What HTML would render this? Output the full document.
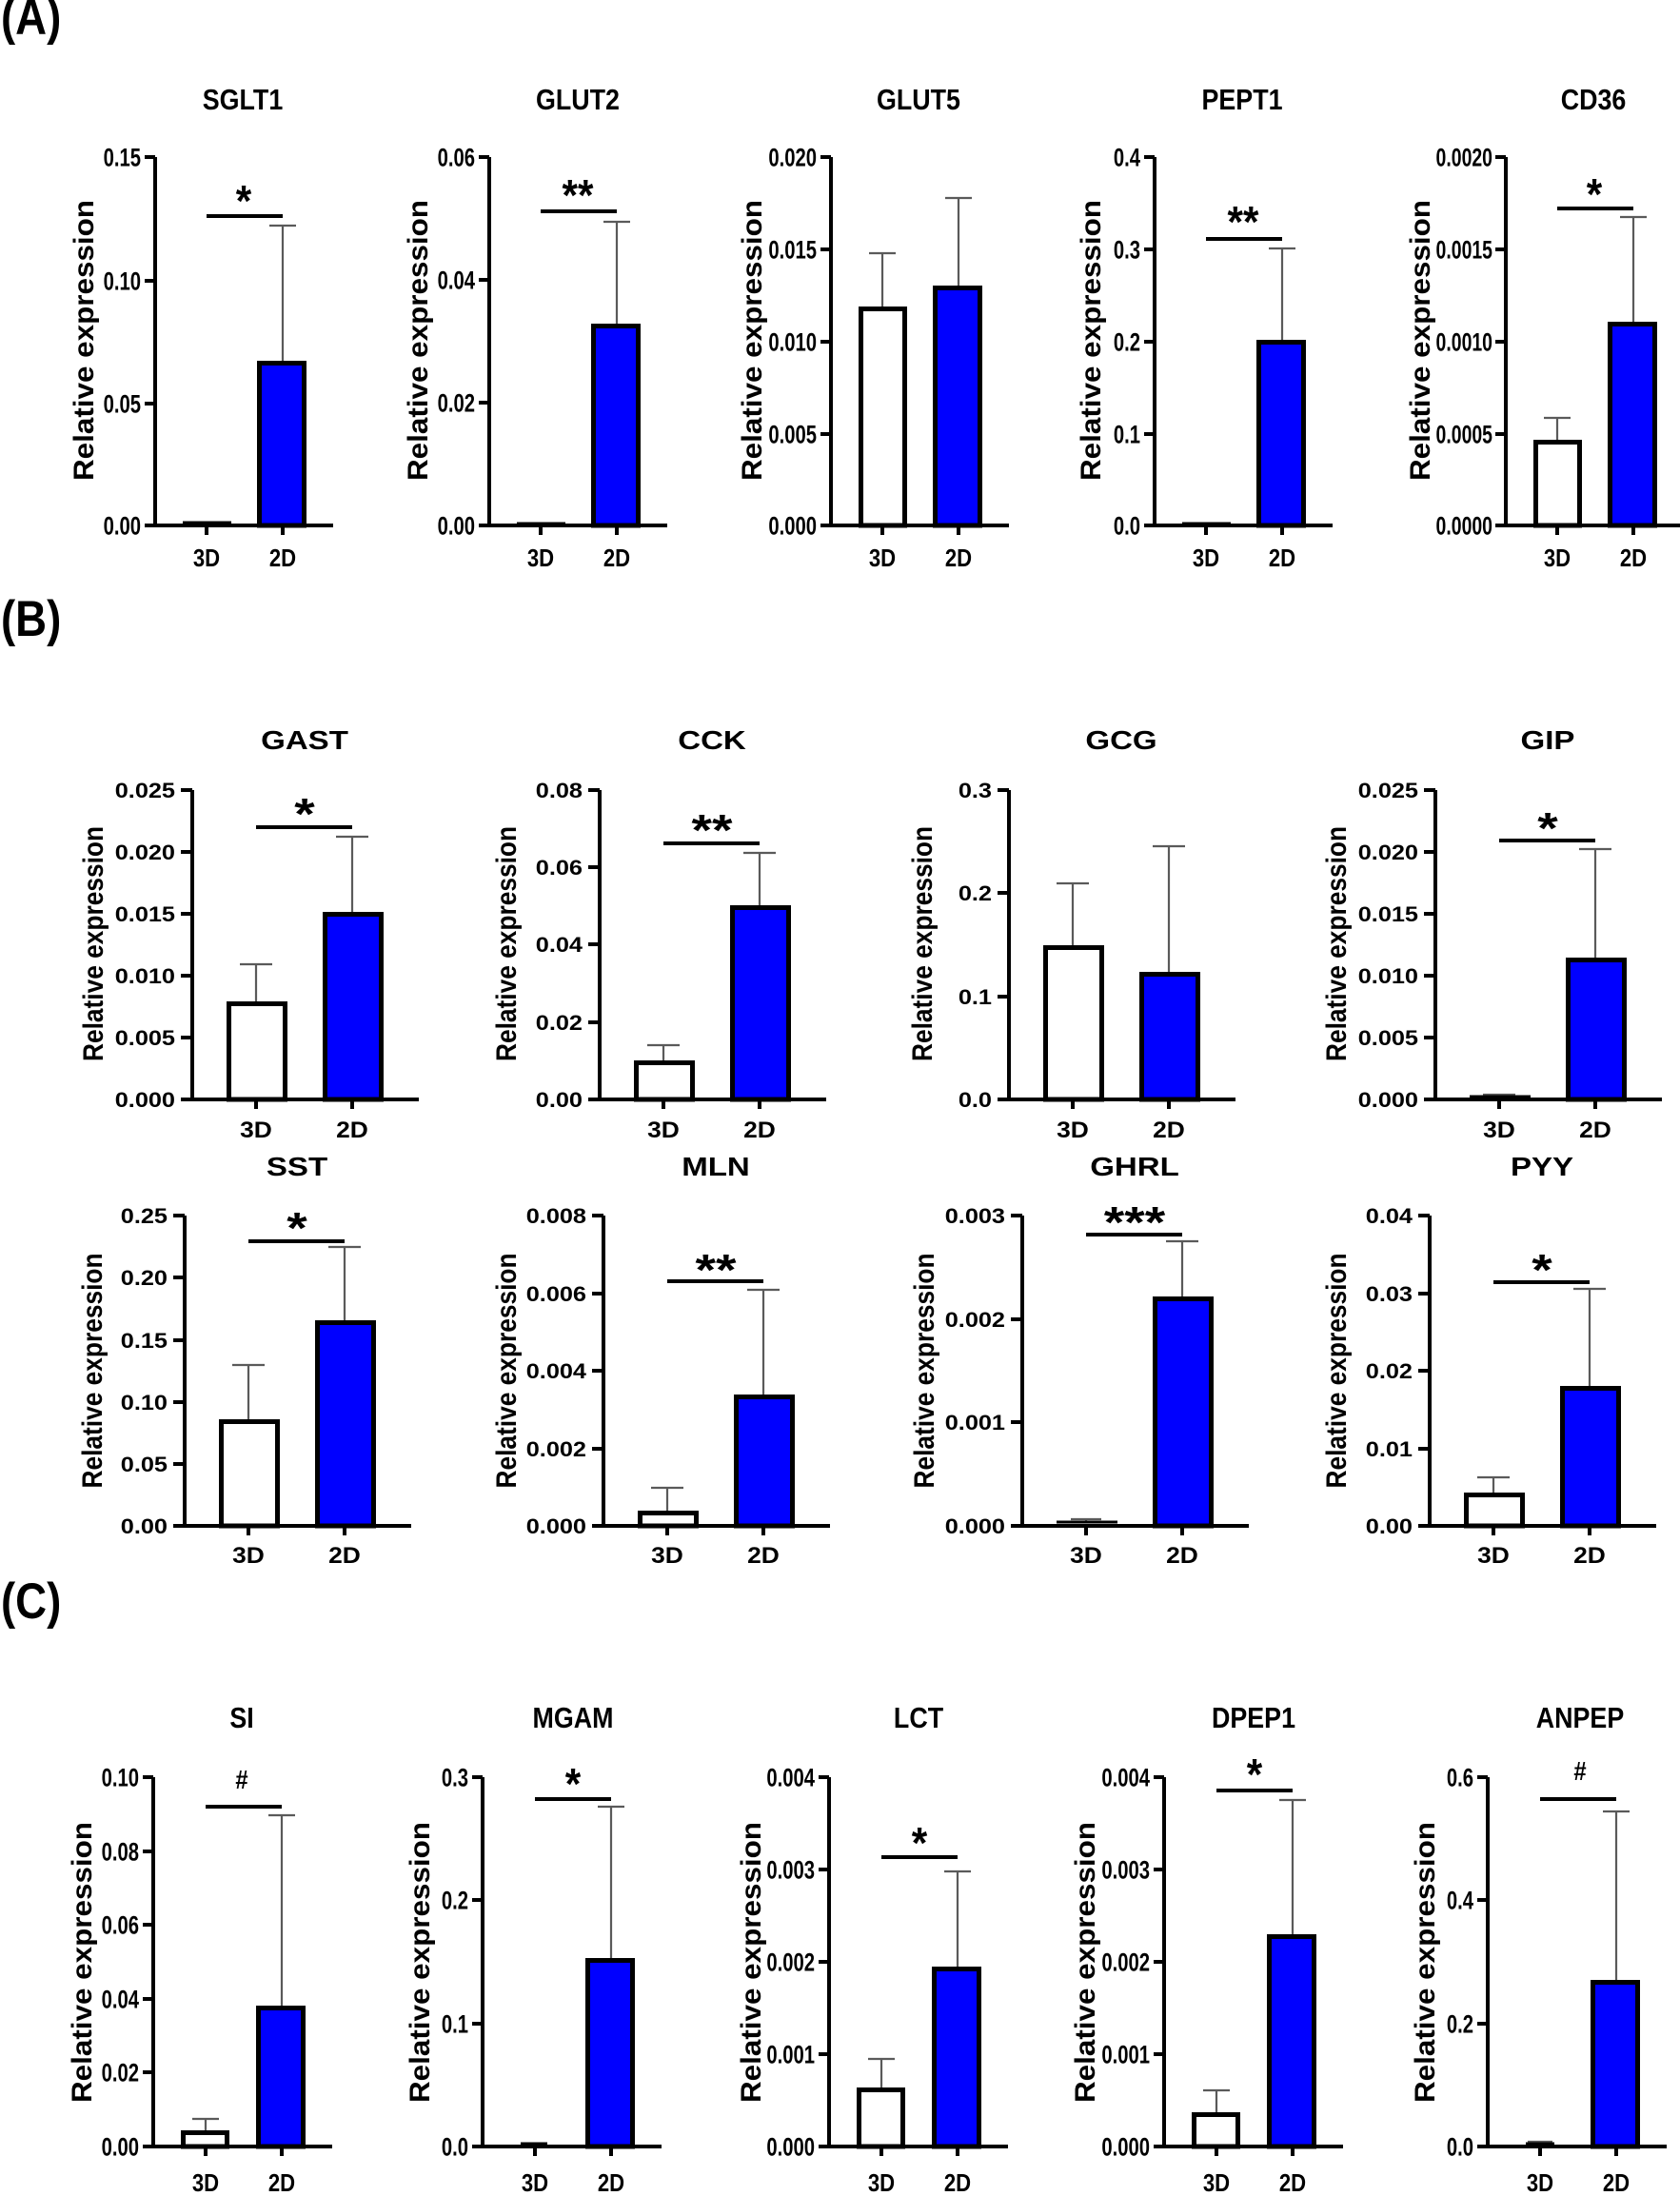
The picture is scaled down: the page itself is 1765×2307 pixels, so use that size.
<!DOCTYPE html>
<html><head><meta charset="utf-8"><style>
html,body{margin:0;padding:0;background:#fff}
svg{display:block}
.ax{stroke:#000;stroke-width:4;fill:none}
.er{stroke:#5a5a5a;stroke-width:2.2;fill:none}
.sg{stroke:#000;stroke-width:4;fill:none}
.tn{stroke:#000;stroke-width:3;fill:none}
.b3{fill:#fff;stroke:#000;stroke-width:5}
.b2{fill:#0000ff;stroke:#000;stroke-width:5}
text{font-family:"Liberation Sans",Arial,sans-serif;font-weight:bold;fill:#000}
.tl{font-size:27px;text-anchor:end}
.tlB{font-size:22px;text-anchor:end}
.tt{font-size:30.5px;text-anchor:middle}
.ttB{font-size:28px;text-anchor:middle}
.xl{font-size:26px;text-anchor:middle}
.xlB{font-size:24px;text-anchor:middle}
.yl{font-size:30px;text-anchor:middle}
.ylB{font-size:30px;text-anchor:middle}
.st{font-size:46px;text-anchor:middle}
.hs{font-size:28px;text-anchor:middle}
.pl{font-size:53px}
</style></head><body>
<svg width="1765" height="2307" viewBox="0 0 1765 2307" xmlns="http://www.w3.org/2000/svg">
<rect width="1765" height="2307" fill="#fff"/>

<text class="pl" transform="translate(1,36) scale(.86,1)">(A)</text>
<text class="pl" transform="translate(1,668) scale(.86,1)">(B)</text>
<text class="pl" transform="translate(1,1700) scale(.86,1)">(C)</text>

<!-- ===== PANEL A ===== -->
<!-- SGLT1 -->
<g transform="translate(163,0)">
<path class="ax" d="M0,165V552M-11,552H187M-11,165H0M-11,295H0M-11,424H0M54,552V562M134,552V562"/>
<text class="tl" transform="translate(-15,174.5) scale(.75,1)">0.15</text>
<text class="tl" transform="translate(-15,304.5) scale(.75,1)">0.10</text>
<text class="tl" transform="translate(-15,433.5) scale(.75,1)">0.05</text>
<text class="tl" transform="translate(-15,561.5) scale(.75,1)">0.00</text>
<text class="tt" transform="translate(92,115) scale(.88,1)">SGLT1</text>
<text class="xl" transform="translate(54,595) scale(.85,1)">3D</text>
<text class="xl" transform="translate(134,595) scale(.85,1)">2D</text>
<text class="yl" transform="translate(-65,357.5) rotate(-90)" textLength="295" lengthAdjust="spacingAndGlyphs">Relative expression</text>
<path class="er" d="M134,379V237M120,237H148"/>
<rect class="b2" x="109.5" y="381.5" width="47" height="170.5"/>
<path class="tn" d="M29,549H80"/>
<path class="sg" d="M54,227H134"/>
<text class="st" transform="translate(93,227) scale(.92,1)">*</text>
</g>

<!-- GLUT2 -->
<g transform="translate(514,0)">
<path class="ax" d="M0,165V552M-11,552H187M-11,165H0M-11,294H0M-11,423H0M54,552V562M134,552V562"/>
<text class="tl" transform="translate(-15,174.5) scale(.75,1)">0.06</text>
<text class="tl" transform="translate(-15,303.5) scale(.75,1)">0.04</text>
<text class="tl" transform="translate(-15,432.5) scale(.75,1)">0.02</text>
<text class="tl" transform="translate(-15,561.5) scale(.75,1)">0.00</text>
<text class="tt" transform="translate(93,115) scale(.88,1)">GLUT2</text>
<text class="xl" transform="translate(54,595) scale(.85,1)">3D</text>
<text class="xl" transform="translate(134,595) scale(.85,1)">2D</text>
<text class="yl" transform="translate(-65,357.5) rotate(-90)" textLength="295" lengthAdjust="spacingAndGlyphs">Relative expression</text>
<path class="er" d="M134,340V233M120,233H148"/>
<rect class="b2" x="109.5" y="342.5" width="47" height="209.5"/>
<path class="tn" d="M29,550H80"/>
<path class="sg" d="M54,222H134"/>
<text class="st" transform="translate(93,221) scale(.92,1)">**</text>
</g>

<!-- GLUT5 -->
<g transform="translate(873,0)">
<path class="ax" d="M0,165V552M-11,552H187M-11,165H0M-11,262H0M-11,359H0M-11,456H0M54,552V562M134,552V562"/>
<text class="tl" transform="translate(-15,174.5) scale(.75,1)">0.020</text>
<text class="tl" transform="translate(-15,271.5) scale(.75,1)">0.015</text>
<text class="tl" transform="translate(-15,368.5) scale(.75,1)">0.010</text>
<text class="tl" transform="translate(-15,465.5) scale(.75,1)">0.005</text>
<text class="tl" transform="translate(-15,561.5) scale(.75,1)">0.000</text>
<text class="tt" transform="translate(92,115) scale(.88,1)">GLUT5</text>
<text class="xl" transform="translate(54,595) scale(.85,1)">3D</text>
<text class="xl" transform="translate(134,595) scale(.85,1)">2D</text>
<text class="yl" transform="translate(-73,357.5) rotate(-90)" textLength="295" lengthAdjust="spacingAndGlyphs">Relative expression</text>
<path class="er" d="M54,322V266M40,266H68M134,300V208M120,208H148"/>
<rect class="b3" x="31.5" y="324.5" width="46" height="227.5"/>
<rect class="b2" x="109.5" y="302.5" width="47" height="249.5"/>
</g>

<!-- PEPT1 -->
<g transform="translate(1213,0)">
<path class="ax" d="M0,165V552M-11,552H187M-11,165H0M-11,262H0M-11,359H0M-11,456H0M54,552V562M134,552V562"/>
<text class="tl" transform="translate(-15,174.5) scale(.75,1)">0.4</text>
<text class="tl" transform="translate(-15,271.5) scale(.75,1)">0.3</text>
<text class="tl" transform="translate(-15,368.5) scale(.75,1)">0.2</text>
<text class="tl" transform="translate(-15,465.5) scale(.75,1)">0.1</text>
<text class="tl" transform="translate(-15,561.5) scale(.75,1)">0.0</text>
<text class="tt" transform="translate(92,115) scale(.88,1)">PEPT1</text>
<text class="xl" transform="translate(54,595) scale(.85,1)">3D</text>
<text class="xl" transform="translate(134,595) scale(.85,1)">2D</text>
<text class="yl" transform="translate(-57,357.5) rotate(-90)" textLength="295" lengthAdjust="spacingAndGlyphs">Relative expression</text>
<path class="er" d="M134,357V261M120,261H148"/>
<rect class="b2" x="109.5" y="359.5" width="47" height="192.5"/>
<path class="tn" d="M29,550H80"/>
<path class="sg" d="M54,251H134"/>
<text class="st" transform="translate(93,249) scale(.92,1)">**</text>
</g>

<!-- CD36 -->
<g transform="translate(1582,0)">
<path class="ax" d="M0,165V552M-11,552H187M-11,165H0M-11,262H0M-11,359H0M-11,456H0M54,552V562M134,552V562"/>
<text class="tl" transform="translate(-14,174.5) scale(.72,1)">0.0020</text>
<text class="tl" transform="translate(-14,271.5) scale(.72,1)">0.0015</text>
<text class="tl" transform="translate(-14,368.5) scale(.72,1)">0.0010</text>
<text class="tl" transform="translate(-14,465.5) scale(.72,1)">0.0005</text>
<text class="tl" transform="translate(-14,561.5) scale(.72,1)">0.0000</text>
<text class="tt" transform="translate(92,115) scale(.88,1)">CD36</text>
<text class="xl" transform="translate(54,595) scale(.85,1)">3D</text>
<text class="xl" transform="translate(134,595) scale(.85,1)">2D</text>
<text class="yl" transform="translate(-80,357.5) rotate(-90)" textLength="295" lengthAdjust="spacingAndGlyphs">Relative expression</text>
<path class="er" d="M54,462V439M40,439H68M134,338V228M120,228H148"/>
<rect class="b3" x="31.5" y="464.5" width="46" height="87.5"/>
<rect class="b2" x="109.5" y="340.5" width="47" height="211.5"/>
<path class="sg" d="M54,219H134"/>
<text class="st" transform="translate(93,220) scale(.92,1)">*</text>
</g>

<!-- ===== PANEL B row 1 ===== -->
<!-- GAST -->
<g transform="translate(202,0)">
<path class="ax" d="M0,830V1155M-12,1155H238M-12,830H0M-12,895H0M-12,960H0M-12,1025H0M-12,1090H0M67,1155V1165M168,1155V1165"/>
<text class="tlB" transform="translate(-18,838) scale(1.15,1)">0.025</text>
<text class="tlB" transform="translate(-18,903) scale(1.15,1)">0.020</text>
<text class="tlB" transform="translate(-18,968) scale(1.15,1)">0.015</text>
<text class="tlB" transform="translate(-18,1033) scale(1.15,1)">0.010</text>
<text class="tlB" transform="translate(-18,1098) scale(1.15,1)">0.005</text>
<text class="tlB" transform="translate(-18,1163) scale(1.15,1)">0.000</text>
<text class="ttB" transform="translate(118,787) scale(1.18,1)">GAST</text>
<text class="xlB" transform="translate(67,1195) scale(1.1,1)">3D</text>
<text class="xlB" transform="translate(168,1195) scale(1.1,1)">2D</text>
<text class="ylB" transform="translate(-94,991.5) rotate(-90)" textLength="247" lengthAdjust="spacingAndGlyphs">Relative expression</text>
<path class="er" d="M67,1052V1013M50,1013H84M168,958V879M151,879H185"/>
<rect class="b3" x="38.5" y="1054.5" width="59" height="100.5"/>
<rect class="b2" x="139.5" y="960.5" width="59" height="194.5"/>
<path class="sg" d="M67,869H168"/>
<text class="st" transform="translate(118,871) scale(1.2,1)">*</text>
</g>

<!-- CCK -->
<g transform="translate(630,0)">
<path class="ax" d="M0,830V1155M-12,1155H238M-12,830H0M-12,911H0M-12,992H0M-12,1074H0M67,1155V1165M168,1155V1165"/>
<text class="tlB" transform="translate(-18,838) scale(1.15,1)">0.08</text>
<text class="tlB" transform="translate(-18,919) scale(1.15,1)">0.06</text>
<text class="tlB" transform="translate(-18,1000) scale(1.15,1)">0.04</text>
<text class="tlB" transform="translate(-18,1082) scale(1.15,1)">0.02</text>
<text class="tlB" transform="translate(-18,1163) scale(1.15,1)">0.00</text>
<text class="ttB" transform="translate(118,787) scale(1.18,1)">CCK</text>
<text class="xlB" transform="translate(67,1195) scale(1.1,1)">3D</text>
<text class="xlB" transform="translate(168,1195) scale(1.1,1)">2D</text>
<text class="ylB" transform="translate(-88,991.5) rotate(-90)" textLength="247" lengthAdjust="spacingAndGlyphs">Relative expression</text>
<path class="er" d="M67,1114V1098M50,1098H84M168,951V896M151,896H185"/>
<rect class="b3" x="38.5" y="1116.5" width="59" height="38.5"/>
<rect class="b2" x="139.5" y="953.5" width="59" height="201.5"/>
<path class="sg" d="M67,886H168"/>
<text class="st" transform="translate(118,888) scale(1.2,1)">**</text>
</g>

<!-- GCG -->
<g transform="translate(1060,0)">
<path class="ax" d="M0,830V1155M-12,1155H238M-12,830H0M-12,938H0M-12,1047H0M67,1155V1165M168,1155V1165"/>
<text class="tlB" transform="translate(-18,838) scale(1.15,1)">0.3</text>
<text class="tlB" transform="translate(-18,946) scale(1.15,1)">0.2</text>
<text class="tlB" transform="translate(-18,1055) scale(1.15,1)">0.1</text>
<text class="tlB" transform="translate(-18,1163) scale(1.15,1)">0.0</text>
<text class="ttB" transform="translate(118,787) scale(1.18,1)">GCG</text>
<text class="xlB" transform="translate(67,1195) scale(1.1,1)">3D</text>
<text class="xlB" transform="translate(168,1195) scale(1.1,1)">2D</text>
<text class="ylB" transform="translate(-81,991.5) rotate(-90)" textLength="247" lengthAdjust="spacingAndGlyphs">Relative expression</text>
<path class="er" d="M67,993V928M50,928H84M168,1021V889M151,889H185"/>
<rect class="b3" x="38.5" y="995.5" width="59" height="159.5"/>
<rect class="b2" x="139.5" y="1023.5" width="59" height="131.5"/>
</g>

<!-- GIP -->
<g transform="translate(1508,0)">
<path class="ax" d="M0,830V1155M-12,1155H238M-12,830H0M-12,895H0M-12,960H0M-12,1025H0M-12,1090H0M67,1155V1165M168,1155V1165"/>
<text class="tlB" transform="translate(-18,838) scale(1.15,1)">0.025</text>
<text class="tlB" transform="translate(-18,903) scale(1.15,1)">0.020</text>
<text class="tlB" transform="translate(-18,968) scale(1.15,1)">0.015</text>
<text class="tlB" transform="translate(-18,1033) scale(1.15,1)">0.010</text>
<text class="tlB" transform="translate(-18,1098) scale(1.15,1)">0.005</text>
<text class="tlB" transform="translate(-18,1163) scale(1.15,1)">0.000</text>
<text class="ttB" transform="translate(118,787) scale(1.18,1)">GIP</text>
<text class="xlB" transform="translate(67,1195) scale(1.1,1)">3D</text>
<text class="xlB" transform="translate(168,1195) scale(1.1,1)">2D</text>
<text class="ylB" transform="translate(-94,991.5) rotate(-90)" textLength="247" lengthAdjust="spacingAndGlyphs">Relative expression</text>
<path class="er" d="M50,1150H84M168,1006V892M151,892H185"/>
<path class="tn" d="M36,1152H100"/>
<rect class="b2" x="139.5" y="1008.5" width="59" height="146.5"/>
<path class="sg" d="M67,883H168"/>
<text class="st" transform="translate(118,886) scale(1.2,1)">*</text>
</g>

<!-- ===== PANEL B row 2 ===== -->
<!-- SST -->
<g transform="translate(194,0)">
<path class="ax" d="M0,1277V1603M-12,1603H238M-12,1277H0M-12,1342H0M-12,1408H0M-12,1473H0M-12,1538H0M67,1603V1613M168,1603V1613"/>
<text class="tlB" transform="translate(-18,1285) scale(1.15,1)">0.25</text>
<text class="tlB" transform="translate(-18,1350) scale(1.15,1)">0.20</text>
<text class="tlB" transform="translate(-18,1416) scale(1.15,1)">0.15</text>
<text class="tlB" transform="translate(-18,1481) scale(1.15,1)">0.10</text>
<text class="tlB" transform="translate(-18,1546) scale(1.15,1)">0.05</text>
<text class="tlB" transform="translate(-18,1611) scale(1.15,1)">0.00</text>
<text class="ttB" transform="translate(118,1235) scale(1.18,1)">SST</text>
<text class="xlB" transform="translate(67,1642) scale(1.1,1)">3D</text>
<text class="xlB" transform="translate(168,1642) scale(1.1,1)">2D</text>
<text class="ylB" transform="translate(-87,1440) rotate(-90)" textLength="247" lengthAdjust="spacingAndGlyphs">Relative expression</text>
<path class="er" d="M67,1491V1434M50,1434H84M168,1387V1310M151,1310H185"/>
<rect class="b3" x="38.5" y="1493.5" width="59" height="109.5"/>
<rect class="b2" x="139.5" y="1389.5" width="59" height="213.5"/>
<path class="sg" d="M67,1304H168"/>
<text class="st" transform="translate(118,1306) scale(1.2,1)">*</text>
</g>

<!-- MLN -->
<g transform="translate(634,0)">
<path class="ax" d="M0,1277V1603M-12,1603H238M-12,1277H0M-12,1359H0M-12,1440H0M-12,1522H0M67,1603V1613M168,1603V1613"/>
<text class="tlB" transform="translate(-18,1285) scale(1.15,1)">0.008</text>
<text class="tlB" transform="translate(-18,1367) scale(1.15,1)">0.006</text>
<text class="tlB" transform="translate(-18,1448) scale(1.15,1)">0.004</text>
<text class="tlB" transform="translate(-18,1530) scale(1.15,1)">0.002</text>
<text class="tlB" transform="translate(-18,1611) scale(1.15,1)">0.000</text>
<text class="ttB" transform="translate(118,1235) scale(1.18,1)">MLN</text>
<text class="xlB" transform="translate(67,1642) scale(1.1,1)">3D</text>
<text class="xlB" transform="translate(168,1642) scale(1.1,1)">2D</text>
<text class="ylB" transform="translate(-92,1440) rotate(-90)" textLength="247" lengthAdjust="spacingAndGlyphs">Relative expression</text>
<path class="er" d="M67,1587V1563M50,1563H84M168,1465V1355M151,1355H185"/>
<rect class="b3" x="38.5" y="1589.5" width="59" height="13.5"/>
<rect class="b2" x="139.5" y="1467.5" width="59" height="135.5"/>
<path class="sg" d="M67,1346H168"/>
<text class="st" transform="translate(118,1350) scale(1.2,1)">**</text>
</g>

<!-- GHRL -->
<g transform="translate(1074,0)">
<path class="ax" d="M0,1277V1603M-12,1603H238M-12,1277H0M-12,1386H0M-12,1494H0M67,1603V1613M168,1603V1613"/>
<text class="tlB" transform="translate(-18,1285) scale(1.15,1)">0.003</text>
<text class="tlB" transform="translate(-18,1394) scale(1.15,1)">0.002</text>
<text class="tlB" transform="translate(-18,1502) scale(1.15,1)">0.001</text>
<text class="tlB" transform="translate(-18,1611) scale(1.15,1)">0.000</text>
<text class="ttB" transform="translate(118,1235) scale(1.18,1)">GHRL</text>
<text class="xlB" transform="translate(67,1642) scale(1.1,1)">3D</text>
<text class="xlB" transform="translate(168,1642) scale(1.1,1)">2D</text>
<text class="ylB" transform="translate(-93,1440) rotate(-90)" textLength="247" lengthAdjust="spacingAndGlyphs">Relative expression</text>
<path class="er" d="M67,1600V1596M51,1596H83M168,1362V1304M151,1304H185"/>
<path class="tn" d="M36,1599H100"/>
<rect class="b2" x="139.5" y="1364.5" width="59" height="238.5"/>
<path class="sg" d="M67,1297H168"/>
<text class="st" transform="translate(118,1300) scale(1.2,1)">***</text>
</g>

<!-- PYY -->
<g transform="translate(1502,0)">
<path class="ax" d="M0,1277V1603M-12,1603H238M-12,1277H0M-12,1359H0M-12,1440H0M-12,1522H0M67,1603V1613M168,1603V1613"/>
<text class="tlB" transform="translate(-18,1285) scale(1.15,1)">0.04</text>
<text class="tlB" transform="translate(-18,1367) scale(1.15,1)">0.03</text>
<text class="tlB" transform="translate(-18,1448) scale(1.15,1)">0.02</text>
<text class="tlB" transform="translate(-18,1530) scale(1.15,1)">0.01</text>
<text class="tlB" transform="translate(-18,1611) scale(1.15,1)">0.00</text>
<text class="ttB" transform="translate(118,1235) scale(1.18,1)">PYY</text>
<text class="xlB" transform="translate(67,1642) scale(1.1,1)">3D</text>
<text class="xlB" transform="translate(168,1642) scale(1.1,1)">2D</text>
<text class="ylB" transform="translate(-88,1440) rotate(-90)" textLength="247" lengthAdjust="spacingAndGlyphs">Relative expression</text>
<path class="er" d="M67,1568V1552M50,1552H84M168,1456V1354M151,1354H185"/>
<rect class="b3" x="38.5" y="1570.5" width="59" height="32.5"/>
<rect class="b2" x="139.5" y="1458.5" width="59" height="144.5"/>
<path class="sg" d="M67,1347H168"/>
<text class="st" transform="translate(118,1350) scale(1.2,1)">*</text>
</g>

<!-- ===== PANEL C ===== -->
<!-- SI -->
<g transform="translate(161,0)">
<path class="ax" d="M0,1867V2255M-11,2255H188M-11,1867H0M-11,1945H0M-11,2022H0M-11,2100H0M-11,2177H0M55,2255V2265M135,2255V2265"/>
<text class="tl" transform="translate(-15,1876.5) scale(.75,1)">0.10</text>
<text class="tl" transform="translate(-15,1954.5) scale(.75,1)">0.08</text>
<text class="tl" transform="translate(-15,2031.5) scale(.75,1)">0.06</text>
<text class="tl" transform="translate(-15,2109.5) scale(.75,1)">0.04</text>
<text class="tl" transform="translate(-15,2186.5) scale(.75,1)">0.02</text>
<text class="tl" transform="translate(-15,2264.5) scale(.75,1)">0.00</text>
<text class="tt" transform="translate(93,1815) scale(.88,1)">SI</text>
<text class="xl" transform="translate(55,2302) scale(.85,1)">3D</text>
<text class="xl" transform="translate(135,2302) scale(.85,1)">2D</text>
<text class="yl" transform="translate(-65,2061.5) rotate(-90)" textLength="295" lengthAdjust="spacingAndGlyphs">Relative expression</text>
<path class="er" d="M55,2238V2226M41,2226H69M135,2107V1907M121,1907H149"/>
<rect class="b3" x="31.5" y="2240.5" width="46" height="14.5"/>
<rect class="b2" x="110.5" y="2109.5" width="47" height="145.5"/>
<path class="sg" d="M55,1898H135"/>
<text class="hs" transform="translate(93,1879) scale(.85,1)">#</text>
</g>

<!-- MGAM -->
<g transform="translate(507,0)">
<path class="ax" d="M0,1867V2255M-11,2255H188M-11,1867H0M-11,1996H0M-11,2126H0M55,2255V2265M135,2255V2265"/>
<text class="tl" transform="translate(-15,1876.5) scale(.75,1)">0.3</text>
<text class="tl" transform="translate(-15,2005.5) scale(.75,1)">0.2</text>
<text class="tl" transform="translate(-15,2135.5) scale(.75,1)">0.1</text>
<text class="tl" transform="translate(-15,2264.5) scale(.75,1)">0.0</text>
<text class="tt" transform="translate(95,1815) scale(.88,1)">MGAM</text>
<text class="xl" transform="translate(55,2302) scale(.85,1)">3D</text>
<text class="xl" transform="translate(135,2302) scale(.85,1)">2D</text>
<text class="yl" transform="translate(-56,2061.5) rotate(-90)" textLength="295" lengthAdjust="spacingAndGlyphs">Relative expression</text>
<path class="er" d="M135,2057V1898M121,1898H149"/>
<path class="tn" d="M40,2252H68"/>
<rect class="b2" x="110.5" y="2059.5" width="47" height="195.5"/>
<path class="sg" d="M55,1890H135"/>
<text class="st" transform="translate(95,1890) scale(.92,1)">*</text>
</g>

<!-- LCT -->
<g transform="translate(871,0)">
<path class="ax" d="M0,1867V2255M-11,2255H188M-11,1867H0M-11,1964H0M-11,2061H0M-11,2158H0M55,2255V2265M135,2255V2265"/>
<text class="tl" transform="translate(-15,1876.5) scale(.75,1)">0.004</text>
<text class="tl" transform="translate(-15,1973.5) scale(.75,1)">0.003</text>
<text class="tl" transform="translate(-15,2070.5) scale(.75,1)">0.002</text>
<text class="tl" transform="translate(-15,2167.5) scale(.75,1)">0.001</text>
<text class="tl" transform="translate(-15,2264.5) scale(.75,1)">0.000</text>
<text class="tt" transform="translate(94,1815) scale(.88,1)">LCT</text>
<text class="xl" transform="translate(55,2302) scale(.85,1)">3D</text>
<text class="xl" transform="translate(135,2302) scale(.85,1)">2D</text>
<text class="yl" transform="translate(-72,2061.5) rotate(-90)" textLength="295" lengthAdjust="spacingAndGlyphs">Relative expression</text>
<path class="er" d="M55,2193V2163M41,2163H69M135,2066V1966M121,1966H149"/>
<rect class="b3" x="31.5" y="2195.5" width="46" height="59.5"/>
<rect class="b2" x="110.5" y="2068.5" width="47" height="186.5"/>
<path class="sg" d="M55,1951H135"/>
<text class="st" transform="translate(95,1952) scale(.92,1)">*</text>
</g>

<!-- DPEP1 -->
<g transform="translate(1223,0)">
<path class="ax" d="M0,1867V2255M-11,2255H188M-11,1867H0M-11,1964H0M-11,2061H0M-11,2158H0M55,2255V2265M135,2255V2265"/>
<text class="tl" transform="translate(-15,1876.5) scale(.75,1)">0.004</text>
<text class="tl" transform="translate(-15,1973.5) scale(.75,1)">0.003</text>
<text class="tl" transform="translate(-15,2070.5) scale(.75,1)">0.002</text>
<text class="tl" transform="translate(-15,2167.5) scale(.75,1)">0.001</text>
<text class="tl" transform="translate(-15,2264.5) scale(.75,1)">0.000</text>
<text class="tt" transform="translate(94,1815) scale(.88,1)">DPEP1</text>
<text class="xl" transform="translate(55,2302) scale(.85,1)">3D</text>
<text class="xl" transform="translate(135,2302) scale(.85,1)">2D</text>
<text class="yl" transform="translate(-73,2061.5) rotate(-90)" textLength="295" lengthAdjust="spacingAndGlyphs">Relative expression</text>
<path class="er" d="M55,2219V2196M41,2196H69M135,2032V1891M121,1891H149"/>
<rect class="b3" x="31.5" y="2221.5" width="46" height="33.5"/>
<rect class="b2" x="110.5" y="2034.5" width="47" height="220.5"/>
<path class="sg" d="M55,1881H135"/>
<text class="st" transform="translate(95,1880) scale(.92,1)">*</text>
</g>

<!-- ANPEP -->
<g transform="translate(1563,0)">
<path class="ax" d="M0,1867V2255M-11,2255H188M-11,1867H0M-11,1996H0M-11,2126H0M55,2255V2265M135,2255V2265"/>
<text class="tl" transform="translate(-15,1876.5) scale(.75,1)">0.6</text>
<text class="tl" transform="translate(-15,2005.5) scale(.75,1)">0.4</text>
<text class="tl" transform="translate(-15,2135.5) scale(.75,1)">0.2</text>
<text class="tl" transform="translate(-15,2264.5) scale(.75,1)">0.0</text>
<text class="tt" transform="translate(97,1815) scale(.88,1)">ANPEP</text>
<text class="xl" transform="translate(55,2302) scale(.85,1)">3D</text>
<text class="xl" transform="translate(135,2302) scale(.85,1)">2D</text>
<text class="yl" transform="translate(-56,2061.5) rotate(-90)" textLength="295" lengthAdjust="spacingAndGlyphs">Relative expression</text>
<path class="er" d="M55,2253V2250M42,2250H68M135,2080V1903M121,1903H149"/>
<path class="tn" d="M40,2252H70"/>
<rect class="b2" x="110.5" y="2082.5" width="47" height="172.5"/>
<path class="sg" d="M55,1890H135"/>
<text class="hs" transform="translate(97,1870) scale(.85,1)">#</text>
</g>
</svg>
</body></html>
